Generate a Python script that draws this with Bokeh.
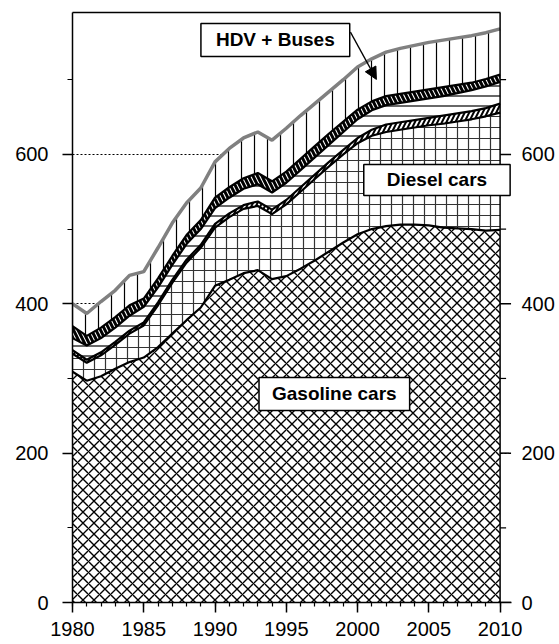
import numpy as np
from bokeh.plotting import figure
from bokeh.models import (Range1d, LinearAxis, SingleIntervalTicker, FixedTicker, Label,
                          Arrow, NormalHead, Span)
from bokeh.embed import file_html
from bokeh.resources import INLINE

years = list(range(1980, 2011))
gasoline = [309, 297, 303, 313, 322, 328, 342, 360, 378, 395,
            424, 432, 441, 445, 433, 437, 447, 458, 470, 482,
            493, 500, 504, 506, 506, 505, 502, 501, 500, 498, 499]
diesel = [24, 24, 28, 32, 38, 43, 56, 68, 77, 80,
          78, 84, 86, 86, 87, 96, 103, 109, 114, 118,
          122, 125, 126, 127, 130, 134, 139, 143, 147, 153, 157]
other_a = [5, 4, 4, 4, 4, 4, 4, 4, 4, 4,
           5, 5, 5, 6, 6, 6, 6, 6, 6, 6,
           7, 8, 10, 10, 10, 10, 11, 11, 11, 11, 12]
other_b = [16, 19, 19, 19, 20, 21, 20, 20, 21, 21,
           21, 21, 22, 23, 23, 23, 23, 23, 23, 24,
           25, 26, 26, 26, 26, 26, 26, 27, 28, 29, 29]
other_c = [16, 13, 14, 14, 14, 11, 12, 12, 12, 12,
           14, 14, 14, 15, 15, 15, 15, 15, 15, 14,
           13, 12, 12, 12, 12, 12, 12, 11, 10, 10, 10]
hdv = [30, 30, 35, 36, 40, 36, 41, 44, 43, 43,
       48, 52, 54, 55, 55, 58, 58, 57, 56, 56,
       57, 57, 59, 61, 62, 63, 63, 63, 63, 62, 61]

y_major = [0, 200, 400, 600]
y_minor = [100, 300, 500, 700]

layers = [gasoline, diesel, other_a, other_b, other_c, hdv]
cum = np.cumsum(np.array(layers, dtype=float), axis=0)
x = np.array(years, dtype=float)

X0, X1 = 1980, 2010
XR = 2010.8   # frame extends a little past 2010 so the label box can overhang
p = figure(width=559, height=644, output_backend="svg", toolbar_location=None,
           x_range=Range1d(X0, XR), y_range=Range1d(0, 790),
           min_border_left=72, min_border_right=48, min_border_top=12, min_border_bottom=42)
p.background_fill_color = "white"
p.border_fill_color = "white"
p.outline_line_color = None

styles = [
    dict(hatch_pattern="x", hatch_color="black", hatch_scale=11, hatch_weight=1.4),
    dict(hatch_pattern="+", hatch_color="#333333", hatch_scale=11, hatch_weight=1.2),
    dict(hatch_pattern="/", hatch_color="black", hatch_scale=9, hatch_weight=2.0),
    dict(hatch_pattern="-", hatch_color="black", hatch_scale=10, hatch_weight=1.2),
    dict(hatch_pattern="\\", hatch_color="black", hatch_scale=9, hatch_weight=3.0),
    dict(hatch_pattern="|", hatch_color="black", hatch_scale=13, hatch_weight=1.2),
]
bottom = np.zeros_like(x)
for i, st in enumerate(styles):
    top = cum[i]
    p.varea(x=x, y1=bottom, y2=top, fill_color="white", **st)
    bottom = top

for i in range(5):
    p.line(x, cum[i], line_color="black", line_width=2.2)
p.line(x, cum[5], line_color="#808080", line_width=3.5)

# grid
p.xgrid.visible = False
p.ygrid.ticker = SingleIntervalTicker(interval=200)
p.ygrid.grid_line_color = "black"
p.ygrid.grid_line_dash = "2 2"
p.ygrid.grid_line_width = 1

font = "Liberation Sans"
def style_axis(ax):
    ax.axis_line_color = "black"
    ax.axis_line_width = 1.5
    ax.major_tick_line_color = "black"
    ax.minor_tick_line_color = "black"
    ax.major_tick_line_width = 1.5
    ax.minor_tick_line_width = 1.2
    ax.major_tick_in = 0
    ax.minor_tick_in = 0
    ax.major_label_text_font = font
    ax.major_label_text_font_size = "20px"
    ax.major_label_text_color = "black"

p.yaxis.ticker = SingleIntervalTicker(interval=200, num_minor_ticks=2)
style_axis(p.yaxis[0])
p.yaxis.major_tick_out = 10
p.yaxis.minor_tick_out = 5
p.yaxis.major_label_standoff = 14

p.xaxis.ticker = SingleIntervalTicker(interval=5, num_minor_ticks=5)
style_axis(p.xaxis[0])
p.xaxis.bounds = (X0, X1 + 0.77)
p.xaxis.major_tick_out = 10
p.xaxis.minor_tick_out = 4
p.xaxis.major_label_standoff = 9

# right axis: labels only; ticks drawn at the 2010 frame edge below
ry = LinearAxis(ticker=SingleIntervalTicker(interval=200, num_minor_ticks=2))
style_axis(ry)
ry.axis_line_color = None
ry.major_tick_out = 0
ry.minor_tick_out = 0
ry.major_tick_line_color = None
ry.minor_tick_line_color = None
ry.major_label_standoff = 10
p.add_layout(ry, "right")

# top frame line
top_ax = LinearAxis(ticker=FixedTicker(ticks=[]), bounds=(X0, X1))
top_ax.axis_line_color = "black"
top_ax.axis_line_width = 1.5
top_ax.major_tick_out = 0
top_ax.minor_tick_out = 0
p.add_layout(top_ax, "above")

# right frame line at 2010 and its outward ticks
p.add_layout(Span(location=X1, dimension="height", line_color="black", line_width=1.5))
pxyr = 439 / (XR - X0)
p.segment(x0=[X1] * len(y_major), y0=y_major, x1=[X1 + 11 / pxyr] * len(y_major), y1=y_major,
          line_color="black", line_width=1.5)
p.segment(x0=[X1] * len(y_minor), y0=y_minor, x1=[X1 + 6 / pxyr] * len(y_minor), y1=y_minor,
          line_color="black", line_width=1.2)

def box_label(text, xv, yv, pad):
    lab = Label(x=xv, y=yv, text=text, text_align="center", text_baseline="middle",
                text_font=font, text_font_style="bold", text_font_size="19px",
                text_color="black", background_fill_color="white",
                border_line_color="black", border_line_width=1.5, padding=pad)
    p.add_layout(lab)

box_label("HDV + Buses", 1994.23, 753.3, (15, 6))
box_label("Diesel cars", 2005.57, 565.8, (23, 5))
box_label("Gasoline cars", 1998.37, 279.2, (13, 6))

p.add_layout(Arrow(end=NormalHead(size=12, fill_color="black", line_color="black"),
                   x_start=1999.5, y_start=763.8, x_end=2001.32, y_end=700.4,
                   line_color="black", line_width=1.3))

open("out.html", "w").write(file_html(p, INLINE))
